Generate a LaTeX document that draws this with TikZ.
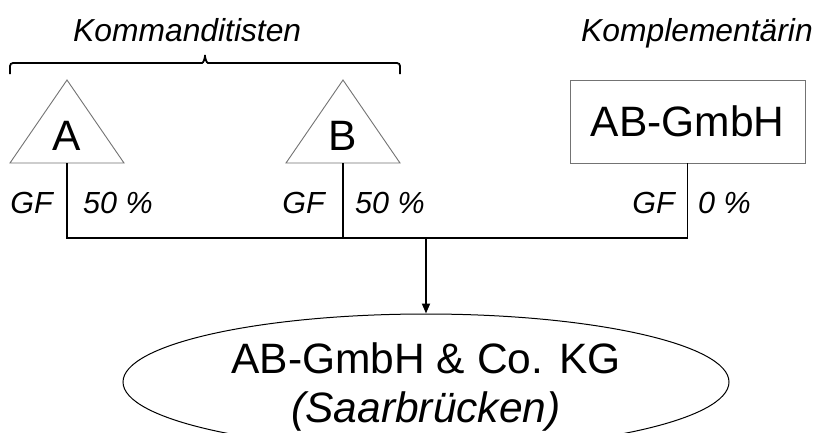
\documentclass[tikz,border=0pt]{standalone}
\usepackage{fontspec}
\setmainfont{Liberation Sans}
\usetikzlibrary{shapes.geometric,arrows.meta}
\definecolor{outline}{gray}{0.45}
\tikzset{
  big/.style={inner sep=0pt, font=\fontsize{42.5}{49}\selectfont},
  lab/.style={inner sep=0pt, font=\fontsize{30.5}{36}\selectfont\itshape},
  head/.style={inner sep=0pt, font=\fontsize{31.8}{38}\selectfont\itshape},
  tri/.style={draw=outline, line width=0.9pt, line join=miter},
  boxnode/.style={draw=outline, line width=0.9pt, inner sep=0pt, minimum width=235pt, minimum height=83pt, font=\fontsize{42.5}{49}\selectfont},
  conn/.style={draw=black, line width=1.8pt, line join=miter},
  bracepath/.style={draw=black, line width=1.8pt, rounded corners=3pt},
  kgshape/.style={ellipse, draw=black, line width=1pt, inner sep=0pt, minimum width=606pt, minimum height=136pt},
}
\begin{document}
\begin{tikzpicture}[x=1pt,y=-1pt]
\useasboundingbox (0,0) rectangle (817,432);
\clip (0,0) rectangle (817,432);
\fill[white] (0,0) rectangle (817,432);

% headings
\node[head, anchor=base west] (komm) at (73,41) {Kommanditisten};
\node[head, anchor=base west] (kompl) at (581,41) {Komplementärin};

% brace
\coordinate (brL) at (10,74);
\coordinate (brR) at (400,74);
\coordinate (brTip) at (205,53);
\draw[bracepath] (brL) -- (10,63) -- (199,63) to[out=0,in=-90] (brTip)
  to[out=-90,in=180] (211,63) -- (400,63) -- (brR);

% triangle A
\coordinate (Atop) at (67,80);
\coordinate (Abase) at (67,163);
\draw[tri] (Atop) -- (124,163) -- (10,163) -- cycle;
\node[big, anchor=base] (Aname) at (67,150) {A};

% triangle B
\coordinate (Btop) at (343,80);
\coordinate (Bbase) at (343,163);
\draw[tri] (Btop) -- (400,163) -- (286,163) -- cycle;
\node[big, anchor=base] (Bname) at (343,150) {B};

% AB-GmbH box
\node[boxnode] (gmbh) at (687.5,121.5) {AB-GmbH};

% ellipse
\node[kgshape] (kg) at (426,382) {};
\node[big, anchor=base] (kg1) at (426,373) {AB-GmbH \& Co. KG};
\node[big, anchor=base] (kg2) at (426,422) {\textit{(Saarbrücken)}};

% bus
\coordinate (busM) at (426,238);
\draw[conn] (Abase) -- (Abase |- busM) -| (gmbh.south);
\draw[conn] (Bbase) -- (Bbase |- busM);
\draw[conn, -{Triangle[length=10pt,width=8pt]}] (busM) -- (kg.north);

% share labels
\node[lab, anchor=base east] (gfA) at (53,213) {GF};
\node[lab, anchor=base west] (pA) at (83,213) {50 \%};
\node[lab, anchor=base east] (gfB) at (325,213) {GF};
\node[lab, anchor=base west] (pB) at (355,213) {50 \%};
\node[lab, anchor=base east] (gfC) at (675,213) {GF};
\node[lab, anchor=base west] (pC) at (698,213) {0 \%};
\end{tikzpicture}
\end{document}
